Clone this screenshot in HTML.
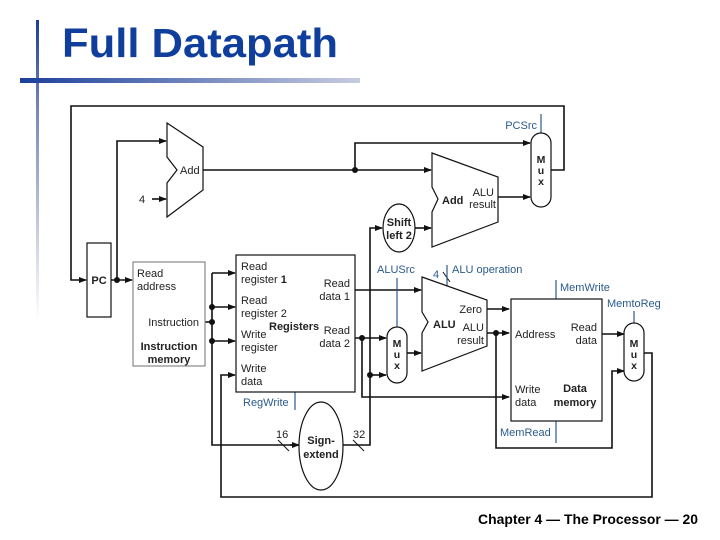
<!DOCTYPE html>
<html><head><meta charset="utf-8"><style>
body{margin:0;background:#fff;}
svg{display:block;font-family:"Liberation Sans",Arial,sans-serif;}
</style></head><body>
<svg width="720" height="540" viewBox="0 0 720 540" xmlns="http://www.w3.org/2000/svg">
<defs>
<linearGradient id="hb" x1="0" x2="1" y1="0" y2="0"><stop offset="0" stop-color="#1a3f9a"/><stop offset="1" stop-color="#c8cce0"/></linearGradient>
<linearGradient id="vb" x1="0" x2="0" y1="0" y2="1"><stop offset="0" stop-color="#1a3f9a"/><stop offset="0.3" stop-color="#7a86b8"/><stop offset="1" stop-color="#ffffff"/></linearGradient>
<marker id="a" markerWidth="8" markerHeight="6" refX="7" refY="3" orient="auto" markerUnits="userSpaceOnUse"><path d="M0,0 L8,3 L0,6 z" fill="#111"/></marker>
</defs>
<rect x="36" y="20" width="3" height="300" fill="url(#vb)"/>
<rect x="20" y="78" width="340" height="5" fill="url(#hb)"/>
<text x="62" y="57" font-size="41" font-weight="bold" fill="#0f3e9c" textLength="276" lengthAdjust="spacingAndGlyphs">Full Datapath</text>

<g stroke="#111" stroke-width="1.6" fill="none">
<polyline points="551,170 564,170 564,106 71,106 71,280 86,280" marker-end="url(#a)"/>
<line x1="111" y1="280" x2="132" y2="280" marker-end="url(#a)"/>
<polyline points="117,280 117,141 166,141" marker-end="url(#a)"/>
<line x1="152" y1="199" x2="166" y2="199" marker-end="url(#a)"/>
<line x1="203" y1="170" x2="431" y2="170" marker-end="url(#a)"/>
<polyline points="355,170 355,143 530,143" marker-end="url(#a)"/>
<line x1="498" y1="197" x2="530" y2="197" marker-end="url(#a)"/>
<line x1="415" y1="228" x2="431" y2="228" marker-end="url(#a)"/>
<line x1="205" y1="322" x2="212" y2="322"/>
<polyline points="212,273 212,445 299,445"/>
<line x1="290" y1="445" x2="299" y2="445" marker-end="url(#a)"/>
<line x1="212" y1="273" x2="235" y2="273" marker-end="url(#a)"/>
<line x1="212" y1="307" x2="235" y2="307" marker-end="url(#a)"/>
<line x1="212" y1="341" x2="235" y2="341" marker-end="url(#a)"/>
<polyline points="644,353 652,353 652,497 221,497 221,375 235,375" marker-end="url(#a)"/>
<polyline points="343,445 370,445 370,228 382,228" marker-end="url(#a)"/>
<line x1="370" y1="375" x2="386" y2="375" marker-end="url(#a)"/>
<line x1="355" y1="290" x2="421" y2="290" marker-end="url(#a)"/>
<line x1="355" y1="338" x2="386" y2="338" marker-end="url(#a)"/>
<polyline points="362,338 362,397 509,397" marker-end="url(#a)"/>
<line x1="407" y1="353" x2="421" y2="353" marker-end="url(#a)"/>
<line x1="487" y1="309" x2="509" y2="309" marker-end="url(#a)"/>
<line x1="487" y1="333" x2="509" y2="333" marker-end="url(#a)"/>
<polyline points="496,333 496,448 612,448 612,371 624,371" marker-end="url(#a)"/>
<line x1="602" y1="334" x2="624" y2="334" marker-end="url(#a)"/>
<line x1="443" y1="272" x2="450" y2="282" stroke-width="1"/>
</g>
<g fill="#111">
<circle cx="117" cy="280" r="3"/><circle cx="355" cy="170" r="3"/>
<circle cx="212" cy="307" r="3"/><circle cx="212" cy="322" r="3"/><circle cx="212" cy="341" r="3"/>
<circle cx="370" cy="375" r="3"/><circle cx="362" cy="338" r="3"/><circle cx="496" cy="333" r="3"/>
</g>
<g stroke="#2b5a8c" stroke-width="1.2">
<line x1="541" y1="114" x2="541" y2="133"/>
<line x1="397" y1="278" x2="397" y2="327"/>
<line x1="447" y1="265" x2="447" y2="290"/>
<line x1="556" y1="280" x2="556" y2="299"/>
<line x1="556" y1="421" x2="556" y2="443"/>
<line x1="634" y1="311" x2="634" y2="323"/>
<line x1="295" y1="392" x2="295" y2="410"/>
</g>
<g stroke="#111" stroke-width="1">
<line x1="278" y1="440" x2="289" y2="451"/>
<line x1="353" y1="440" x2="364" y2="451"/>
</g>
<g stroke="#111" stroke-width="1.2" fill="#fff">
<rect x="87" y="243" width="24" height="74"/>
<rect x="133" y="262" width="72" height="104" stroke="#888"/>
<rect x="236" y="255" width="119" height="137"/>
<rect x="511" y="299" width="91" height="122"/>
<polygon points="167,123 203,147 203,190 167,217 167,183 177,170 167,157"/>
<polygon points="432,153 498,177 498,222 432,247 432,212 438,199 432,187"/>
<polygon points="422,277 487,300 487,346 422,371 422,333 428,322 422,312"/>
<rect x="531" y="133" width="20" height="74" rx="10"/>
<rect x="387" y="327" width="20" height="56" rx="10"/>
<rect x="624" y="323" width="20" height="58" rx="10"/>
<ellipse cx="399" cy="228" rx="16" ry="24"/>
<ellipse cx="321" cy="446" rx="22" ry="44"/>
</g>
<g font-size="11" fill="#222">
<text x="99" y="284" font-weight="bold" text-anchor="middle">PC</text>
<text x="180" y="174">Add</text>
<text x="139" y="203">4</text>
<text x="137" y="277">Read</text><text x="137" y="290">address</text>
<text x="199" y="326" text-anchor="end">Instruction</text>
<text x="169" y="350" font-weight="bold" text-anchor="middle">Instruction</text>
<text x="169" y="363" font-weight="bold" text-anchor="middle">memory</text>
<text x="241" y="270">Read</text><text x="241" y="283">register <tspan font-weight="bold">1</tspan></text>
<text x="350" y="287" text-anchor="end">Read</text><text x="350" y="300" text-anchor="end">data 1</text>
<text x="241" y="304">Read</text><text x="241" y="317">register 2</text>
<text x="269" y="330" font-weight="bold">Registers</text>
<text x="350" y="334" text-anchor="end">Read</text><text x="350" y="347" text-anchor="end">data 2</text>
<text x="241" y="338">Write</text><text x="241" y="351">register</text>
<text x="241" y="372">Write</text><text x="241" y="385">data</text>
<text x="321" y="444" font-weight="bold" text-anchor="middle">Sign-</text>
<text x="321" y="458" font-weight="bold" text-anchor="middle">extend</text>
<text x="276" y="438">16</text><text x="353" y="438">32</text>
<text x="399" y="226" font-weight="bold" text-anchor="middle">Shift</text>
<text x="399" y="239" font-weight="bold" text-anchor="middle">left 2</text>
<text x="442" y="204" font-weight="bold">Add</text>
<text x="494" y="196" text-anchor="end">ALU</text><text x="496" y="208" text-anchor="end">result</text>
<g font-weight="bold" text-anchor="middle" font-size="10.5">
<text x="541" y="163">M</text><text x="541" y="174">u</text><text x="541" y="185">x</text>
<text x="397" y="347">M</text><text x="397" y="358">u</text><text x="397" y="369">x</text>
<text x="634" y="347">M</text><text x="634" y="358">u</text><text x="634" y="369">x</text>
</g>
<text x="433" y="328" font-weight="bold">ALU</text>
<text x="482" y="313" text-anchor="end">Zero</text>
<text x="484" y="331" text-anchor="end">ALU</text><text x="484" y="344" text-anchor="end">result</text>
<text x="515" y="338">Address</text>
<text x="597" y="331" text-anchor="end">Read</text><text x="597" y="344" text-anchor="end">data</text>
<text x="515" y="393">Write</text><text x="515" y="406">data</text>
<text x="575" y="392" font-weight="bold" text-anchor="middle">Data</text>
<text x="575" y="406" font-weight="bold" text-anchor="middle">memory</text>
</g>
<g font-size="11" fill="#2b5a8c">
<text x="537" y="129" text-anchor="end">PCSrc</text>
<text x="377" y="273">ALUSrc</text>
<text x="433" y="278">4</text>
<text x="452" y="273">ALU operation</text>
<text x="560" y="291">MemWrite</text>
<text x="607" y="307">MemtoReg</text>
<text x="500" y="436">MemRead</text>
<text x="243" y="406">RegWrite</text>
</g>
<text x="478" y="524" font-size="14" font-weight="bold" fill="#000" textLength="220" lengthAdjust="spacingAndGlyphs">Chapter 4 — The Processor — 20</text>
</svg>
</body></html>
